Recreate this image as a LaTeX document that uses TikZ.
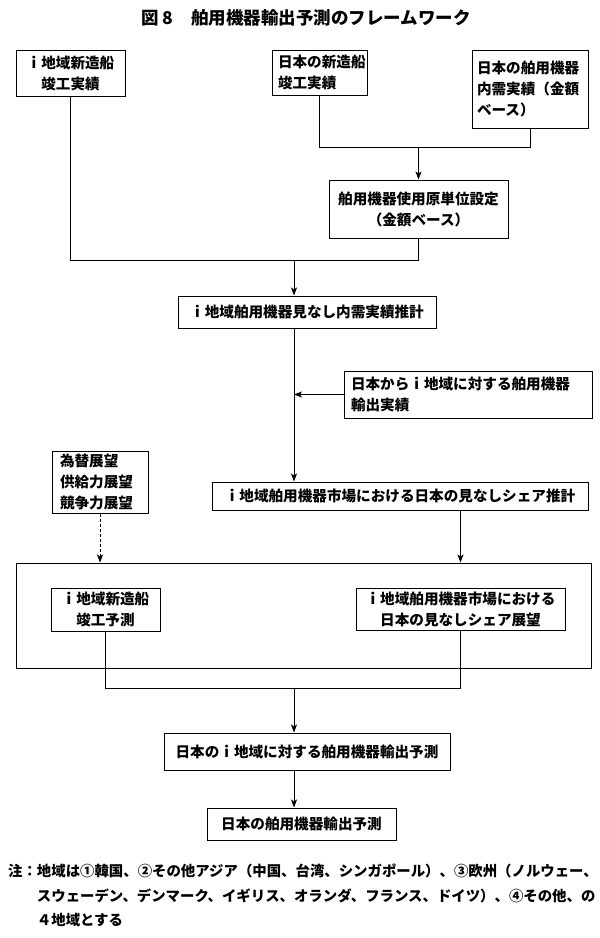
\documentclass[tikz,border=0pt]{standalone}
\usepackage{fontspec}
\setmainfont{Noto Sans CJK JP}
\usetikzlibrary{arrows.meta}
\begin{document}
\begin{tikzpicture}[x=1pt,y=-1pt,
  box/.style={draw, line width=1pt, inner sep=0pt, font=\bfseries\fontsize{14.6}{21}\selectfont},
  conn/.style={line width=0.8pt},
  arr/.style={conn, -{Stealth[length=8pt,width=6pt,inset=2pt]}},
  darr/.style={arr, dash pattern=on 3pt off 2pt}
]
\useasboundingbox (0,0) rectangle (600,938);
\node[font=\bfseries\fontsize{17.5}{20}\selectfont] (title) at (306,18) {図 8　舶用機器輸出予測のフレームワーク};

\node[box, minimum width=109pt, minimum height=46pt, align=center] (A) at (70.5,73) {ｉ地域新造船\\竣工実績};
\node[box, minimum width=95pt, minimum height=45pt, text width=83pt, align=left] (B) at (319.5,72.5) {日本の新造船\\竣工実績};
\node[box, minimum width=116pt, minimum height=78pt, text width=106pt, align=left] (C) at (530,89) {日本の舶用機器\\内需実績（金額\\ベース）};
\node[box, minimum width=179pt, minimum height=58pt, align=center] (D) at (418.5,209) {舶用機器使用原単位設定\\（金額ベース）};
\node[box, minimum width=258pt, minimum height=32pt, align=center] (E) at (307,312) {ｉ地域舶用機器見なし内需実績推計};
\node[box, minimum width=248pt, minimum height=47pt, text width=234pt, align=left] (F) at (468,394.5) {日本からｉ地域に対する舶用機器\\輸出実績};
\node[box, minimum width=376pt, minimum height=28pt, align=center] (G) at (400,496) {ｉ地域舶用機器市場における日本の見なしシェア推計};
\node[box, minimum width=96pt, minimum height=62pt, text width=80pt, align=left] (H) at (100,482) {為替展望\\供給力展望\\競争力展望};
\node[box, minimum width=575pt, minimum height=105pt] (big) at (303.5,615.5) {};
\node[box, minimum width=109pt, minimum height=43pt, align=center] (I) at (105.5,609.5) {ｉ地域新造船\\竣工予測};
\node[box, minimum width=209pt, minimum height=42pt, align=center] (J) at (460.5,609) {ｉ地域舶用機器市場における\\日本の見なしシェア展望};
\node[box, minimum width=286pt, minimum height=37pt, align=center] (K) at (307,751.5) {日本のｉ地域に対する舶用機器輸出予測};
\node[box, minimum width=189pt, minimum height=32pt, align=center] (L) at (301.5,824) {日本の舶用機器輸出予測};

\node[anchor=north west, inner sep=0pt, align=left, font=\bfseries\fontsize{14.4}{24.5}\selectfont] (note) at (8,864)
  {注：地域は①韓国、②その他アジア（中国、台湾、シンガポール）、③欧州（ノルウェー、\\
   \hspace*{2em}スウェーデン、デンマーク、イギリス、オランダ、フランス、ドイツ）、④その他、の\\
   \hspace*{2em}４地域とする};

% B, C -> D
\coordinate (jBC) at (D.north |- 0,147);
\draw[conn] (B.south) -- (B.south |- jBC) -- (C.south |- jBC) -- (C.south);
\draw[arr] (jBC) -- (D.north);
% A, D -> E
\coordinate (jAD) at (294,260);
\draw[conn] (A.south) -- (A.south |- jAD) -- (D.south |- jAD) -- (D.south);
\draw[arr] (jAD) -- (jAD |- E.north);
% E -> G, F joins
\coordinate (eS) at (294,328);
\coordinate (fJ) at (294,394.5);
\draw[arr] (eS) -- (eS |- G.north);
\draw[arr] (F.west) -- (fJ);
% H -> big (dashed), G -> big
\draw[darr] (H.south) -- (H.south |- big.north);
\draw[arr] (J.north |- G.south) -- (J.north |- big.north);
% I, J -> K
\coordinate (jIJ) at (294,688);
\draw[conn] (I.south) -- (I.south |- jIJ) -- (J.south |- jIJ) -- (J.south);
\draw[arr] (jIJ) -- (jIJ |- K.north);
% K -> L
\coordinate (kS) at (294,770);
\draw[arr] (kS) -- (kS |- L.north);
\end{tikzpicture}
\end{document}
